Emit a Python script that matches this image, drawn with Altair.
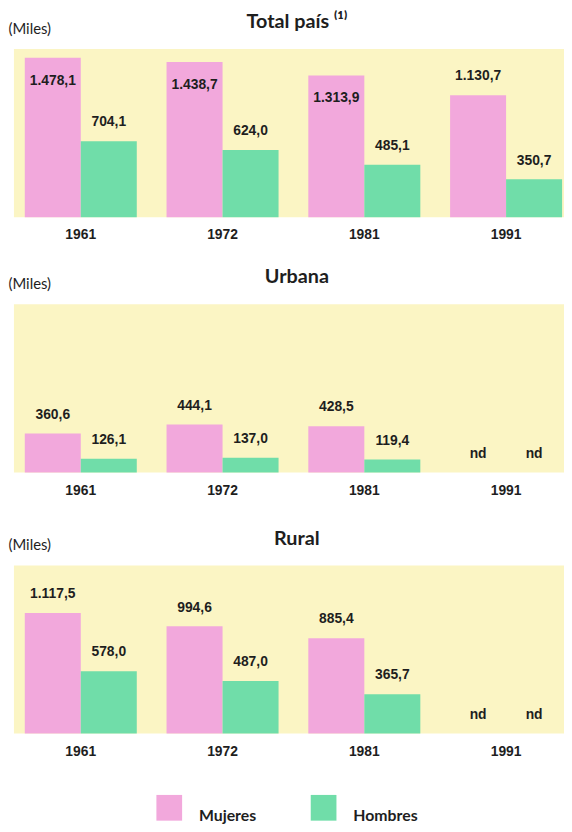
import altair as alt
import pandas as pd

years = ["1961", "1972", "1981", "1991"]
sexes = ["Mujeres", "Hombres"]

total_mujeres = [1478.1, 1438.7, 1313.9, 1130.7]
total_hombres = [704.1, 624.0, 485.1, 350.7]
urbana_mujeres = [360.6, 444.1, 428.5, None]
urbana_hombres = [126.1, 137.0, 119.4, None]
rural_mujeres = [1117.5, 994.6, 885.4, None]
rural_hombres = [578.0, 487.0, 365.7, None]

PINK = "#F2A8DC"
GREEN = "#70DDA9"
YELLOW = "#FBF5C4"
INK = "#1e1e1e"
NUM_FONT = "Liberation Sans, Arial, sans-serif"
TXT_FONT = "Lato, Open Sans, sans-serif"


def fmt(v):
    if v is None:
        return "nd"
    s = f"{v:,.1f}"
    return s.replace(",", "X").replace(".", ",").replace("X", ".")


def frame(m, h):
    rows = []
    for i, yr in enumerate(years):
        for sx, vals in zip(sexes, [m, h]):
            v = vals[i]
            rows.append({"year": yr, "sexo": sx, "valor": v, "lab": fmt(v)})
    return pd.DataFrame(rows)


yscale = alt.Scale(domain=[0, 1560], nice=False, zero=True)


def panel(df, title, show_legend=False):
    base = alt.Chart(df).transform_calculate(
        ly="datum.valor == null ? 0 : datum.valor"
    ).encode(
        x=alt.X(
            "year:N",
            sort=years,
            scale=alt.Scale(paddingInner=0.21, paddingOuter=0.045, align=0.85),
            axis=alt.Axis(
                title=None, labelAngle=0, ticks=False, domain=False,
                labelPadding=11, labelFontSize=14, labelFont=NUM_FONT,
                labelFontWeight="bold", labelColor=INK,
            ),
        ),
        xOffset=alt.XOffset("sexo:N", sort=sexes,
                            scale=alt.Scale(paddingInner=0, paddingOuter=0)),
        y=alt.Y(
            "ly:Q", scale=yscale,
            axis=alt.Axis(
                title="(Miles)", labels=False, ticks=False, domain=False,
                grid=False, titleAngle=0, titleX=-6, titleY=-21,
                titleAlign="left", titleBaseline="middle", titleFontSize=15,
                titleFont=TXT_FONT, titleFontWeight="normal", titleColor=INK,
                minExtent=0,
            ),
        ),
    )
    color_kwargs = dict(
        sort=sexes, scale=alt.Scale(domain=sexes, range=[PINK, GREEN])
    )
    if show_legend:
        color_kwargs["legend"] = alt.Legend(
            orient="none", legendX=144, legendY=754, direction="horizontal",
            title=None, symbolType="square", symbolSize=676,
            symbolStrokeWidth=0, symbolOpacity=1, labelFontSize=16,
            labelFont=TXT_FONT, labelFontWeight="bold", labelColor=INK,
            labelOffset=17, columnPadding=55, labelBaseline="top", padding=0,
        )
    bars = base.mark_bar(stroke=None).encode(
        color=alt.Color("sexo:N", **color_kwargs),
    )
    style = dict(font=NUM_FONT, fontSize=14, fontWeight="bold", color=INK,
                 baseline="middle")
    above = base.transform_filter("datum.ly < 1200").mark_text(
        dy=-19, **style).encode(text="lab:N")
    inside = base.transform_filter("datum.ly >= 1200").mark_text(
        dy=23, **style).encode(text="lab:N")
    return alt.layer(bars, above, inside).properties(
        width=556, height=170,
        title=alt.TitleParams(title, fontSize=20, font=TXT_FONT,
                              fontWeight="bold", color=INK, anchor="middle",
                              dx=8, dy=23, offset=-8, baseline="bottom"),
    )


p1 = panel(frame(total_mujeres, total_hombres), "Total país ⁽¹⁾")
p2 = panel(frame(urbana_mujeres, urbana_hombres), "Urbana")
p3 = panel(frame(rural_mujeres, rural_hombres), "Rural", show_legend=True)

chart = alt.vconcat(
    alt.vconcat(p1, p2, spacing=26),
    p3,
    spacing=32,
).properties(
    padding={"left": 0, "top": 0, "right": 0, "bottom": 0},
    background="white",
).configure_view(fill=YELLOW, strokeWidth=0)

chart.save("out.html", embed_options={"renderer": "svg", "actions": False})
